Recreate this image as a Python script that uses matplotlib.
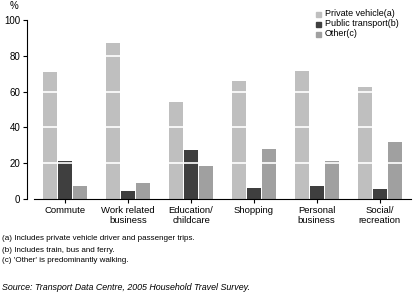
import matplotlib
matplotlib.use('Agg')
import matplotlib.pyplot as plt
import numpy as np

plt.rcParams['font.family'] = ['Liberation Sans', 'DejaVu Sans']

categories = ["Commute", "Work related\nbusiness", "Education/\nchildcare", "Shopping",
              "Personal\nbusiness", "Social/\nrecreation"]
private_vehicle = [71, 87, 54, 66, 71.5, 62.5]
public_transport = [21.5, 4.2, 27.5, 6.3, 7.5, 5.8]
other = [7.5, 8.7, 18.7, 28, 21.5, 32]
series_labels = ["Private vehicle(a)", "Public transport(b)", "Other(c)"]
colors = ['#bfbfbf', '#3f3f3f', '#a0a0a0']

W, H = 416, 302
fig = plt.figure(figsize=(W / 100, H / 100), dpi=100)
ax = fig.add_axes([34 / W, 1 - 199 / H, (411 - 34) / W, (199 - 20) / H])

x = np.arange(len(categories))
width = 0.222
step = 0.238
for i, (vals, c) in enumerate(zip([private_vehicle, public_transport, other], colors)):
    ax.bar(x + (i - 1) * step, vals, width, color=c, zorder=2, linewidth=0)

# white gridlines drawn over bars
for yv in [20, 40, 60, 80]:
    ax.axhline(yv, color='white', lw=1.2, zorder=3)

ax.set_xlim(-0.5, len(categories) - 0.5)
ax.set_ylim(0, 100)
ax.set_yticks([0, 20, 40, 60, 80, 100])
ax.set_xticks(x)
ax.set_xticklabels(categories, fontsize=6.8, linespacing=1.2)
ax.tick_params(axis='y', labelsize=7, length=3, width=0.8, pad=2)
ax.tick_params(axis='x', length=3, width=0.8, pad=2)

ax.spines['top'].set_visible(False)
ax.spines['right'].set_visible(False)
ax.spines['left'].set_position(('outward', 5))
ax.spines['left'].set_linewidth(0.8)
ax.spines['bottom'].set_linewidth(0.8)

fig.text(14 / W, 1 - 6 / H, "%", fontsize=7, ha='center', va='center')

# legend
for i, (lab, c) in enumerate(zip(series_labels, colors)):
    yy = 1 - (14 + i * 10) / H
    fig.patches.append(plt.Rectangle((315.5 / W, yy - 2.5 / H), 5 / W, 5 / H,
                                     transform=fig.transFigure, color=c, figure=fig))
    fig.text(325 / W, yy, lab, fontsize=6.5, ha='left', va='center')

notes = ["(a) Includes private vehicle driver and passenger trips.",
         "(b) Includes train, bus and ferry.",
         "(c) 'Other' is predominantly walking."]
for i, n in enumerate(notes):
    fig.text(2 / W, 1 - (239 + i * 11) / H, n, fontsize=5.8, ha='left', va='center')
fig.text(2 / W, 1 - 287 / H, "Source: Transport Data Centre, 2005 Household Travel Survey.",
         fontsize=6.4, ha='left', va='center', style='italic')

fig.savefig('out.png', dpi=100)
